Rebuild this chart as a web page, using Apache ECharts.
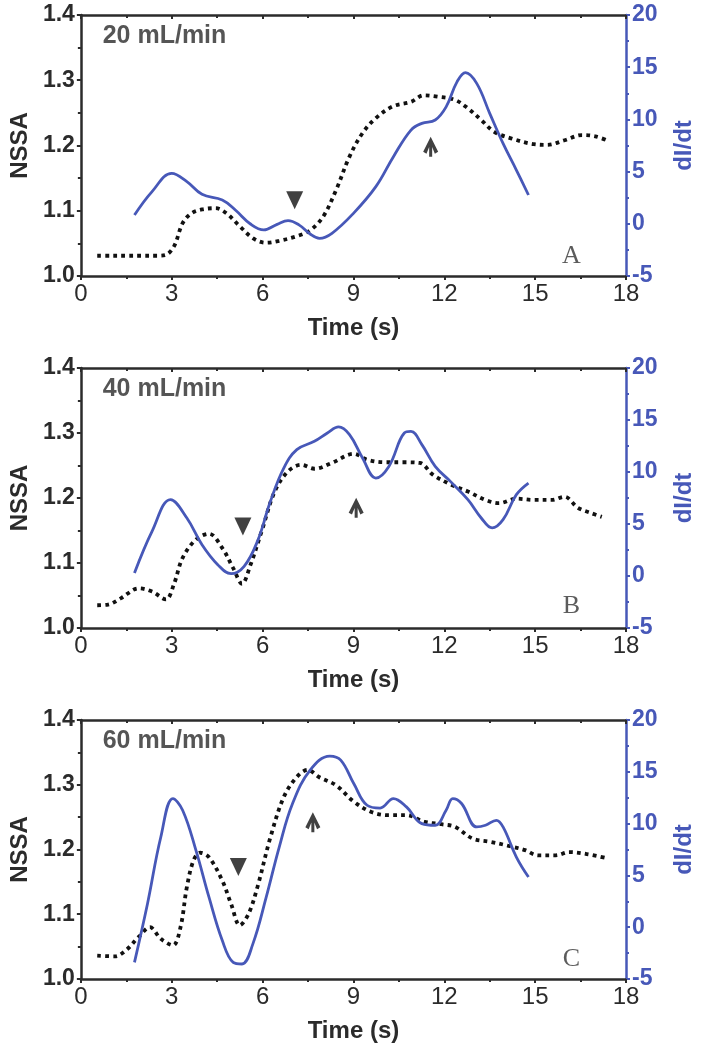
<!DOCTYPE html>
<html>
<head>
<meta charset="utf-8">
<script src="https://cdn.jsdelivr.net/npm/echarts@6/dist/echarts.min.js"></script>
<style>html,body{margin:0;padding:0;background:#fff}#c{width:704px;height:1050px}</style>
</head>
<body>
<div id="c"></div>
<script>
// ---- data ----
const xTicks = [0, 3, 6, 9, 12, 15, 18];
const nssaTicks = [1.0, 1.1, 1.2, 1.3, 1.4];
const didtTicks = [-5, 0, 5, 10, 15, 20];
const flowLabels = ['20 mL/min', '40 mL/min', '60 mL/min'];
const panelLetters = ['A', 'B', 'C'];

const timeA_nssa = [0.54,1.0,1.5,2.0,2.5,2.78,3.07,3.36,3.65,4.0,4.45,4.81,5.25,5.68,6.1,6.55,7.13,7.57,8.0,8.43,8.87,9.3,9.74,10.3,10.9,11.33,11.77,12.35,12.78,13.22,13.65,14.2,14.96,15.4,15.97,16.55,16.99,17.42];
const nssaA = [1.031,1.031,1.031,1.031,1.031,1.032,1.045,1.081,1.096,1.102,1.104,1.096,1.076,1.058,1.051,1.054,1.061,1.07,1.091,1.132,1.183,1.219,1.242,1.26,1.267,1.277,1.275,1.27,1.257,1.239,1.221,1.211,1.202,1.201,1.208,1.216,1.214,1.207];
const timeA_didt = [1.77,2.35,3.0,3.5,4.0,4.67,5.1,5.6,6.04,6.48,6.84,7.2,7.57,7.88,8.29,9.0,9.74,10.32,10.9,11.26,11.7,12.06,12.42,12.7,13.07,13.5,13.94,14.38,14.78];
const didtA = [0.84,3.08,4.83,4.04,2.82,2.28,1.32,-0.02,-0.59,-0.05,0.3,-0.1,-0.98,-1.39,-0.91,1.0,3.56,6.43,8.98,9.62,9.94,11.2,13.6,14.48,13.45,10.58,7.7,5.15,2.76];

const timeB_nssa = [0.54,0.9,1.33,1.91,2.35,2.81,3.07,3.36,3.8,4.23,4.67,5.03,5.32,5.6,5.97,6.4,6.84,7.28,7.71,8.29,9.01,9.45,10.03,10.6,11.19,11.62,12.2,12.78,13.36,13.8,14.38,14.96,15.54,15.97,16.41,16.84,17.2];
const nssaB = [1.035,1.036,1.046,1.061,1.056,1.044,1.067,1.108,1.136,1.145,1.123,1.092,1.068,1.097,1.149,1.21,1.241,1.251,1.245,1.254,1.268,1.259,1.255,1.255,1.254,1.236,1.221,1.21,1.197,1.192,1.199,1.197,1.197,1.202,1.185,1.177,1.171];
const timeB_didt = [1.77,2.35,2.96,3.5,4.0,4.52,4.96,5.39,5.83,6.26,6.7,7.13,7.71,8.14,8.51,8.87,9.3,9.74,10.17,10.68,10.9,11.26,11.7,12.2,12.78,13.22,13.58,13.94,14.38,14.78];
const didtB = [0.29,4.29,7.34,5.58,3.01,1.09,0.22,0.93,3.33,7.18,10.38,12.15,12.95,13.75,14.33,13.59,11.35,9.42,10.54,13.75,13.9,12.63,10.54,9.1,7.34,5.58,4.62,5.42,7.82,8.94];

const timeC_nssa = [0.54,1.12,1.48,1.91,2.28,2.64,3.04,3.29,3.5,3.72,3.94,4.23,4.67,4.96,5.25,5.54,5.83,6.26,6.7,7.13,7.49,7.86,8.43,9.01,9.59,10.17,10.75,11.33,11.91,12.35,12.93,13.51,14.09,14.67,15.1,15.68,16.12,16.7,17.42];
const nssaC = [1.036,1.035,1.044,1.065,1.08,1.062,1.052,1.08,1.142,1.183,1.195,1.188,1.152,1.116,1.083,1.101,1.142,1.219,1.281,1.312,1.323,1.312,1.299,1.274,1.258,1.253,1.253,1.243,1.239,1.235,1.217,1.212,1.206,1.199,1.191,1.191,1.196,1.193,1.186];
const timeC_didt = [1.77,2.2,2.64,3.04,3.36,3.8,4.23,4.67,5.03,5.32,5.68,6.12,6.55,6.99,7.57,8.22,8.58,9.01,9.45,9.88,10.32,10.75,11.26,11.7,12.06,12.28,12.57,13.07,13.36,13.72,13.94,14.38,14.78];
const didtC = [-3.39,2.26,8.71,12.42,11.29,7.42,2.9,-1.29,-3.39,-3.55,-1.61,2.9,7.74,11.94,15.16,16.52,16.13,13.87,11.77,11.5,12.42,11.61,10.0,9.84,11.29,12.42,11.94,9.68,9.84,10.32,9.68,6.77,4.84];

// annotation markers [time, NSSA]
const triangleMarks = [[7.06, 1.116], [5.35, 1.156], [5.2, 1.173]];
const arrowMarks = [[11.55, 1.198], [9.09, 1.185], [7.66, 1.242]];
const flowLabelPos = [[0.72, 1.367], [0.72, 1.367], [0.72, 1.367]];
const letterPos = [[16.2, 1.03], [16.2, 1.033], [16.2, 1.031]];

const panels = [
  {tn: timeA_nssa, n: nssaA, td: timeA_didt, d: didtA},
  {tn: timeB_nssa, n: nssaB, td: timeB_didt, d: didtB},
  {tn: timeC_nssa, n: nssaC, td: timeC_didt, d: didtC}
];

// ---- styling / layout ----
const BLUE = '#4758b8';
const DARK = '#2b2b2b';
const FONT = 'Liberation Sans, Arial, sans-serif';
const gridTops = [15, 368, 720];
const gridHeights = [261, 260, 259];
const zip = (a, b) => a.map((v, i) => [v, b[i]]);
const arrowPath = 'path://M5,0 L10,10.5 L7.8,11.8 L6,7.2 L6,14 L4,14 L4,7.2 L2.2,11.8 L0,10.5 Z';

const grid = [], xAxis = [], yAxis = [], series = [];
panels.forEach((p, i) => {
  grid.push({left: 76, right: 72, top: gridTops[i], height: gridHeights[i], containLabel: false});
  xAxis.push({
    type: 'value', gridIndex: i, min: xTicks[0], max: xTicks[xTicks.length - 1], interval: 3,
    position: 'bottom',
    name: 'Time (s)', nameLocation: 'middle', nameGap: 40,
    nameTextStyle: {fontFamily: FONT, fontSize: 24, fontWeight: 'bold', color: DARK},
    axisLine: {show: true, onZero: false, lineStyle: {color: DARK, width: 2.5}},
    axisTick: {show: true, inside: false, length: 4, lineStyle: {color: DARK, width: 2}},
    minorTick: {show: true, splitNumber: 2, length: 3, lineStyle: {color: DARK, width: 2}},
    axisLabel: {fontFamily: FONT, fontSize: 24, color: DARK, margin: 6},
    splitLine: {show: false}
  });
  xAxis.push({
    type: 'value', gridIndex: i, min: xTicks[0], max: xTicks[xTicks.length - 1], interval: 3,
    position: 'top',
    axisLine: {show: true, onZero: false, lineStyle: {color: DARK, width: 2.5}},
    axisTick: {show: true, inside: true, length: 4, lineStyle: {color: DARK, width: 2}},
    minorTick: {show: true, splitNumber: 2, length: 3, lineStyle: {color: DARK, width: 2}},
    axisLabel: {show: false},
    splitLine: {show: false}
  });
  yAxis.push({
    type: 'value', gridIndex: i, min: nssaTicks[0], max: nssaTicks[nssaTicks.length - 1], interval: 0.1,
    position: 'left',
    name: 'NSSA', nameLocation: 'middle', nameGap: 48, nameRotate: 90,
    nameTextStyle: {fontFamily: FONT, fontSize: 24, fontWeight: 'bold', color: DARK},
    axisLine: {show: true, onZero: false, lineStyle: {color: DARK, width: 2.5}},
    axisTick: {show: true, inside: false, length: 4, lineStyle: {color: DARK, width: 2}},
    minorTick: {show: true, splitNumber: 2, length: 3, lineStyle: {color: DARK, width: 2}},
    axisLabel: {fontFamily: FONT, fontSize: 23, fontWeight: 'bold', color: DARK, margin: 6,
      formatter: v => v.toFixed(1)},
    splitLine: {show: false}
  });
  yAxis.push({
    type: 'value', gridIndex: i, min: didtTicks[0], max: didtTicks[didtTicks.length - 1], interval: 5,
    position: 'right',
    name: 'dI/dt', nameLocation: 'middle', nameGap: 46, nameRotate: 90,
    nameTextStyle: {fontFamily: FONT, fontSize: 24, fontWeight: 'bold', color: BLUE},
    axisLine: {show: true, onZero: false, lineStyle: {color: BLUE, width: 2.5}},
    axisTick: {show: true, inside: false, length: 4, lineStyle: {color: BLUE, width: 2}},
    minorTick: {show: true, splitNumber: 2, length: 3, lineStyle: {color: BLUE, width: 2}},
    axisLabel: {fontFamily: FONT, fontSize: 23, fontWeight: 'bold', color: BLUE, margin: 6},
    splitLine: {show: false}
  });

  const xi = i * 2, yl = i * 2, yr = i * 2 + 1;
  series.push({
    type: 'line', xAxisIndex: xi, yAxisIndex: yl, data: zip(p.tn, p.n),
    smooth: 0.35, showSymbol: false, symbol: 'none',
    lineStyle: {color: '#111', width: 3.8, type: [3.8, 4.2], cap: 'butt'}, z: 3
  });
  series.push({
    type: 'line', xAxisIndex: xi, yAxisIndex: yr, data: zip(p.td, p.d),
    smooth: 0.4, showSymbol: false, symbol: 'none',
    lineStyle: {color: BLUE, width: 2.8}, z: 4
  });
  series.push({
    type: 'scatter', xAxisIndex: xi, yAxisIndex: yl, data: [triangleMarks[i]],
    symbol: 'triangle', symbolRotate: 180, symbolSize: [17, 18],
    itemStyle: {color: '#111'}, z: 5, silent: true
  });
  series.push({
    type: 'scatter', xAxisIndex: xi, yAxisIndex: yl, data: [arrowMarks[i]],
    symbol: arrowPath, symbolSize: [15, 20],
    itemStyle: {color: '#111'}, z: 5, silent: true
  });
  series.push({
    type: 'scatter', xAxisIndex: xi, yAxisIndex: yl, data: [flowLabelPos[i]],
    symbolSize: 0, silent: true,
    label: {show: true, position: 'right', distance: 0, formatter: flowLabels[i],
      fontFamily: FONT, fontSize: 25, fontWeight: 'bold', color: DARK}
  });
  series.push({
    type: 'scatter', xAxisIndex: xi, yAxisIndex: yl, data: [letterPos[i]],
    symbolSize: 0, silent: true,
    label: {show: true, position: 'inside', formatter: panelLetters[i],
      fontFamily: 'Liberation Serif, Times New Roman, serif', fontSize: 26, color: '#333'}
  });
});

const chart = echarts.init(document.getElementById('c'), null, {renderer: 'canvas'});
chart.setOption({backgroundColor: '#fff', animation: false, grid, xAxis, yAxis, series});
</script>
</body>
</html>
